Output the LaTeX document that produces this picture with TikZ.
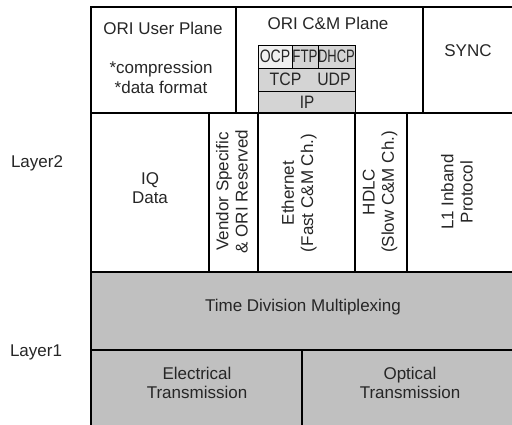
\documentclass[tikz,border=0pt]{standalone}
\usepackage{fontspec}
\setmainfont{Liberation Sans}
\definecolor{layergray}{HTML}{C0C0C0}
\definecolor{stackgray}{HTML}{D4D4D4}
\definecolor{ocpgray}{HTML}{F0F0F0}
\begin{document}
\begin{tikzpicture}[x=1pt,y=-1pt,line width=1.1pt,
  txt/.style={font=\fontsize{17}{19.3}\selectfont,align=center,inner sep=0pt,text=black!85},
  stk/.style={font=\fontsize{18}{20}\selectfont,inner sep=0pt,text=black!85},
  frame/.style={draw=black,line width=1.1pt},
  thin/.style={draw=black,line width=0.9pt}]
\useasboundingbox (0,0) rectangle (512,424);
\clip (0,0) rectangle (512,424);
% fills
\fill[layergray] (91,272) rectangle (520,430);
\fill[ocpgray] (258,45) rectangle (292,68);
\fill[stackgray] (292,45) rectangle (355,68);
\fill[stackgray] (258,68) rectangle (355,113);
% protocol stack boxes
\draw[thin] (258,45) rectangle (355,113);
\draw[thin] (258,68) -- (355,68);
\draw[thin] (258,91) -- (355,91);
\draw[thin] (292,45) -- (292,68);
\draw[thin] (318,45) -- (318,68);
% frame lines
\draw[frame] (91,430) -- (91,7) -- (520,7);
\draw[frame] (91,113) -- (520,113);
\draw[frame] (91,272) -- (520,272);
\draw[frame] (91,350) -- (520,350);
\draw[frame] (236,7) -- (236,113);
\draw[frame] (423,7) -- (423,113);
\draw[frame] (209,113) -- (209,272);
\draw[frame] (258,113) -- (258,272);
\draw[frame] (355,113) -- (355,272);
\draw[frame] (407,113) -- (407,272);
\draw[frame] (302,350) -- (302,430);
% texts top row
\node[txt] (userplane) at (163,28) {ORI User Plane};
\node[txt] (compr) at (161,77.5) {*compression\\*data format};
\node[txt] (cmplane) at (328,23.5) {ORI C\&M Plane};
\node[txt] (sync) at (468,51) {SYNC};
\node[stk] (ocp) at (275,56.5) {\scalebox{0.78}[1]{OCP}};
\node[stk] (ftp) at (305,56.5) {\scalebox{0.74}[1]{FTP}};
\node[stk] (dhcp) at (336.5,56.5) {\scalebox{0.72}[1]{DHCP}};
\node[stk] (tcp) at (285.5,79.5) {\scalebox{0.88}[1]{TCP}};
\node[stk] (udp) at (334,79.5) {\scalebox{0.88}[1]{UDP}};
\node[stk] (ip) at (307,102) {\scalebox{0.85}[1]{IP}};
% layer labels
\node[txt] (layer2) at (37,163) {Layer2};
\node[txt] (layer1) at (36,352) {Layer1};
% layer 2 row
\node[txt] (iq) at (150,188) {IQ\\Data};
\node[txt,rotate=90] (vendor) at (232,191.5) {Vendor Specific\\\& ORI Reserved};
\node[txt,rotate=90] (eth) at (299,193) {Ethernet\\(Fast C\&M Ch.)};
\node[txt,rotate=90] (hdlc) at (380,192) {HDLC\\(Slow C\&M Ch.)};
\node[txt,rotate=90] (l1) at (457,192) {L1 Inband\\Protocol};
% layer 1 row
\node[txt] (tdm) at (303,307) {Time Division Multiplexing};
\node[txt] (elec) at (197,383) {Electrical\\Transmission};
\node[txt] (opt) at (410,383) {Optical\\Transmission};
\end{tikzpicture}
\end{document}
